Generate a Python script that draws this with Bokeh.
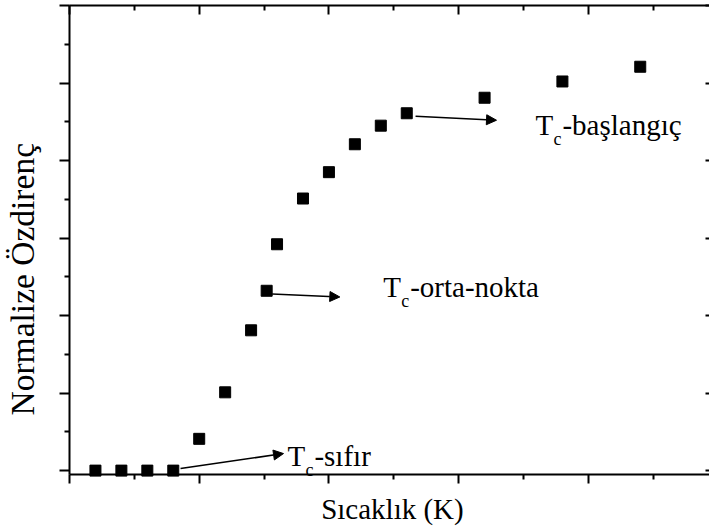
from bokeh.plotting import figure
from bokeh.models import Range1d, LinearAxis, FixedTicker, Arrow, NormalHead, CustomJSTickFormatter
from bokeh.embed import file_html
from bokeh.resources import INLINE
from bokeh.core.properties import value
import math

# ---- data ----
temperature = [1, 2, 3, 4, 5, 6, 7, 7.6, 8, 9, 10, 11, 12, 13, 16, 19, 22]
resistivity = [0.0, 0.0, 0.0, 0.0, 0.41, 1.01, 1.81, 2.32, 2.92, 3.51,
               3.85, 4.21, 4.45, 4.61, 4.81, 5.02, 5.21]

x_major = [0, 5, 10, 15, 20, 25]
x_minor = [2.5, 7.5, 12.5, 17.5, 22.5]
y_major = [0, 1, 2, 3, 4, 5, 6]
y_minor = [0.5, 1.5, 2.5, 3.5, 4.5, 5.5]

x_title = "Sıcaklık (K)"
y_title = "Normalize Özdirenç"

label_main = ["T", "T", "T"]
label_sub = ["c", "c", "c"]
label_rest = ["-sıfır", "-orta-nokta", "-başlangıç"]
label_x = [8.40, 12.09, 17.96]
label_y = [0.065, 2.24, 4.33]

arrow_x_start = [4.28, 7.81, 13.34]
arrow_y_start = [0.026, 2.28, 4.57]
arrow_x_end = [8.25, 10.42, 16.46]
arrow_y_end = [0.22, 2.24, 4.52]

# axis box (data units) and the page margins around it
X0, X1 = 0.0, 24.67
Y0, Y1 = -0.05, 6.0
FONT = "Liberation Serif"

# the frame fills the whole page; the axes sit at fixed data locations
p = figure(width=709, height=529,
           x_range=Range1d(-2.66, X1), y_range=Range1d(-0.7595, 6.0645),
           output_backend="svg", toolbar_location=None, min_border=0)
p.xgrid.visible = False
p.ygrid.visible = False
p.outline_line_color = None
p.background_fill_color = "white"
p.border_fill_color = "white"

bottom_axis = p.below[0]
left_axis = p.left[0]
top_axis = LinearAxis()
right_axis = LinearAxis()
p.add_layout(top_axis, "above")
p.add_layout(right_axis, "right")


def style(ax, major, minor, loc, bounds, t_in, t_out, m_in, m_out):
    ax.ticker = FixedTicker(ticks=major, minor_ticks=minor)
    ax.formatter = CustomJSTickFormatter(code="return ''")
    ax.major_label_text_font_size = "0px"
    ax.major_label_text_color = None
    ax.major_label_standoff = 0
    ax.fixed_location = loc
    ax.bounds = bounds
    ax.axis_line_width = 2
    ax.axis_line_color = "black"
    ax.major_tick_line_width = 2
    ax.minor_tick_line_width = 2
    ax.major_tick_in = t_in
    ax.major_tick_out = t_out
    ax.minor_tick_in = m_in
    ax.minor_tick_out = m_out


style(bottom_axis, x_major, x_minor, Y0, (X0, X1), 0, 9, 0, 5)
style(top_axis, x_major, x_minor, Y1, (X0, X1), 9, 0, 5, 0)
style(left_axis, y_major, y_minor, X0, (Y0, Y1), 0, 10, 0, 5)
style(right_axis, y_major, y_minor, X1 + 0.03, (Y0, Y1), 5, 0, 0, 0)
right_axis.axis_line_color = None

p.scatter(temperature, resistivity, marker="square", size=11,
          fill_color="black", line_color="black")

for xs, ys, xe, ye in zip(arrow_x_start, arrow_y_start, arrow_x_end, arrow_y_end):
    p.add_layout(Arrow(x_start=xs, y_start=ys, x_end=xe, y_end=ye,
                       line_width=1.5, line_color="black",
                       end=NormalHead(size=10, fill_color="black",
                                      line_color="black", line_width=1)))

p.text(label_x, label_y, text=label_main, text_font=value(FONT),
       text_font_size="29px", text_baseline="alphabetic", text_color="black",
       y_offset=-10)
p.text(label_x, label_y, text=label_sub, text_font=value(FONT),
       text_font_size="18px", text_baseline="alphabetic", text_color="black",
       x_offset=18, y_offset=4)
p.text(label_x, label_y, text=label_rest, text_font=value(FONT),
       text_font_size="29px", text_baseline="alphabetic", text_color="black",
       x_offset=27, y_offset=-10)

# axis titles
p.text([9.70], [-0.618], text=[x_title], text_font=value(FONT),
       text_font_size="29px", text_baseline="alphabetic", text_color="black",
       y_offset=-10)
p.text([-1.388], [0.711], text=[y_title], text_font=value(FONT),
       text_font_size="33.5px", text_baseline="alphabetic", text_color="black",
       angle=math.pi / 2, x_offset=-11)

open("out.html", "w").write(file_html(p, INLINE))
